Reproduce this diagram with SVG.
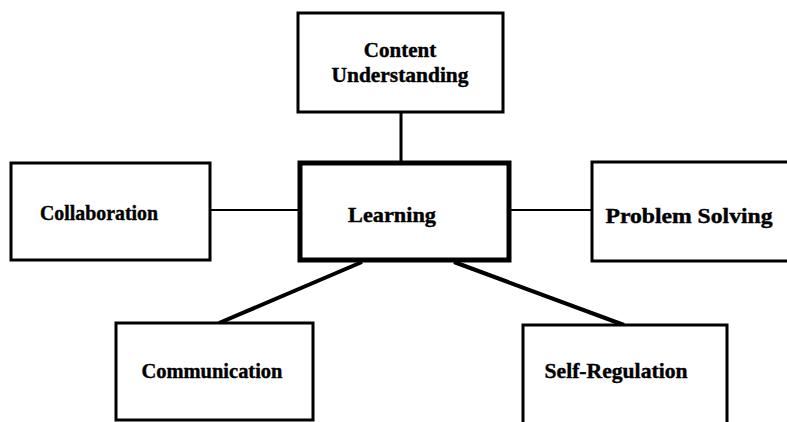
<svg xmlns="http://www.w3.org/2000/svg" width="787" height="422" viewBox="0 0 787 422">
  <style>
    .box { fill: #fff; stroke: #000; stroke-width: 3; }
    .hub { fill: #fff; stroke: #000; stroke-width: 5; }
    .lbl { font-family: "Liberation Serif", "Times New Roman", serif; font-weight: bold; font-size: 21px; fill: #000; stroke: #000; stroke-width: 0.4; text-anchor: middle; }
    .link { stroke: #000; fill: none; }
  </style>
  <rect width="787" height="422" fill="#fff"/>

  <g id="connectors">
    <line class="link" x1="401" y1="112" x2="401" y2="162" stroke-width="3"/>
    <line class="link" x1="210" y1="210" x2="300" y2="210" stroke-width="2"/>
    <line class="link" x1="510" y1="210" x2="592" y2="210" stroke-width="2"/>
    <line class="link" x1="362" y1="262" x2="219" y2="323" stroke-width="4"/>
    <line class="link" x1="454" y1="262" x2="624" y2="325" stroke-width="4"/>
  </g>

  <g id="content-understanding">
    <rect class="box" x="298" y="13" width="205" height="99"/>
    <text class="lbl" x="400" y="57">Content</text>
    <text class="lbl" x="400" y="82" textLength="137" lengthAdjust="spacingAndGlyphs">Understanding</text>
  </g>

  <g id="collaboration">
    <rect class="box" x="11" y="163" width="199" height="97"/>
    <text class="lbl" x="99" y="220" textLength="118" lengthAdjust="spacingAndGlyphs">Collaboration</text>
  </g>

  <g id="learning">
    <rect class="hub" x="300" y="163" width="209" height="97"/>
    <text class="lbl" x="392" y="222" textLength="88" lengthAdjust="spacingAndGlyphs">Learning</text>
  </g>

  <g id="problem-solving">
    <path class="box" d="M790 162 H592 V261 H790"/>
    <text class="lbl" x="689" y="223" textLength="167" lengthAdjust="spacingAndGlyphs">Problem Solving</text>
  </g>

  <g id="communication">
    <rect class="box" x="116" y="323" width="197" height="97"/>
    <text class="lbl" x="212" y="378" textLength="141" lengthAdjust="spacingAndGlyphs">Communication</text>
  </g>

  <g id="self-regulation">
    <path class="box" d="M523 430 V325 H727 V430"/>
    <text class="lbl" x="616" y="378" textLength="143" lengthAdjust="spacingAndGlyphs">Self-Regulation</text>
  </g>
</svg>
